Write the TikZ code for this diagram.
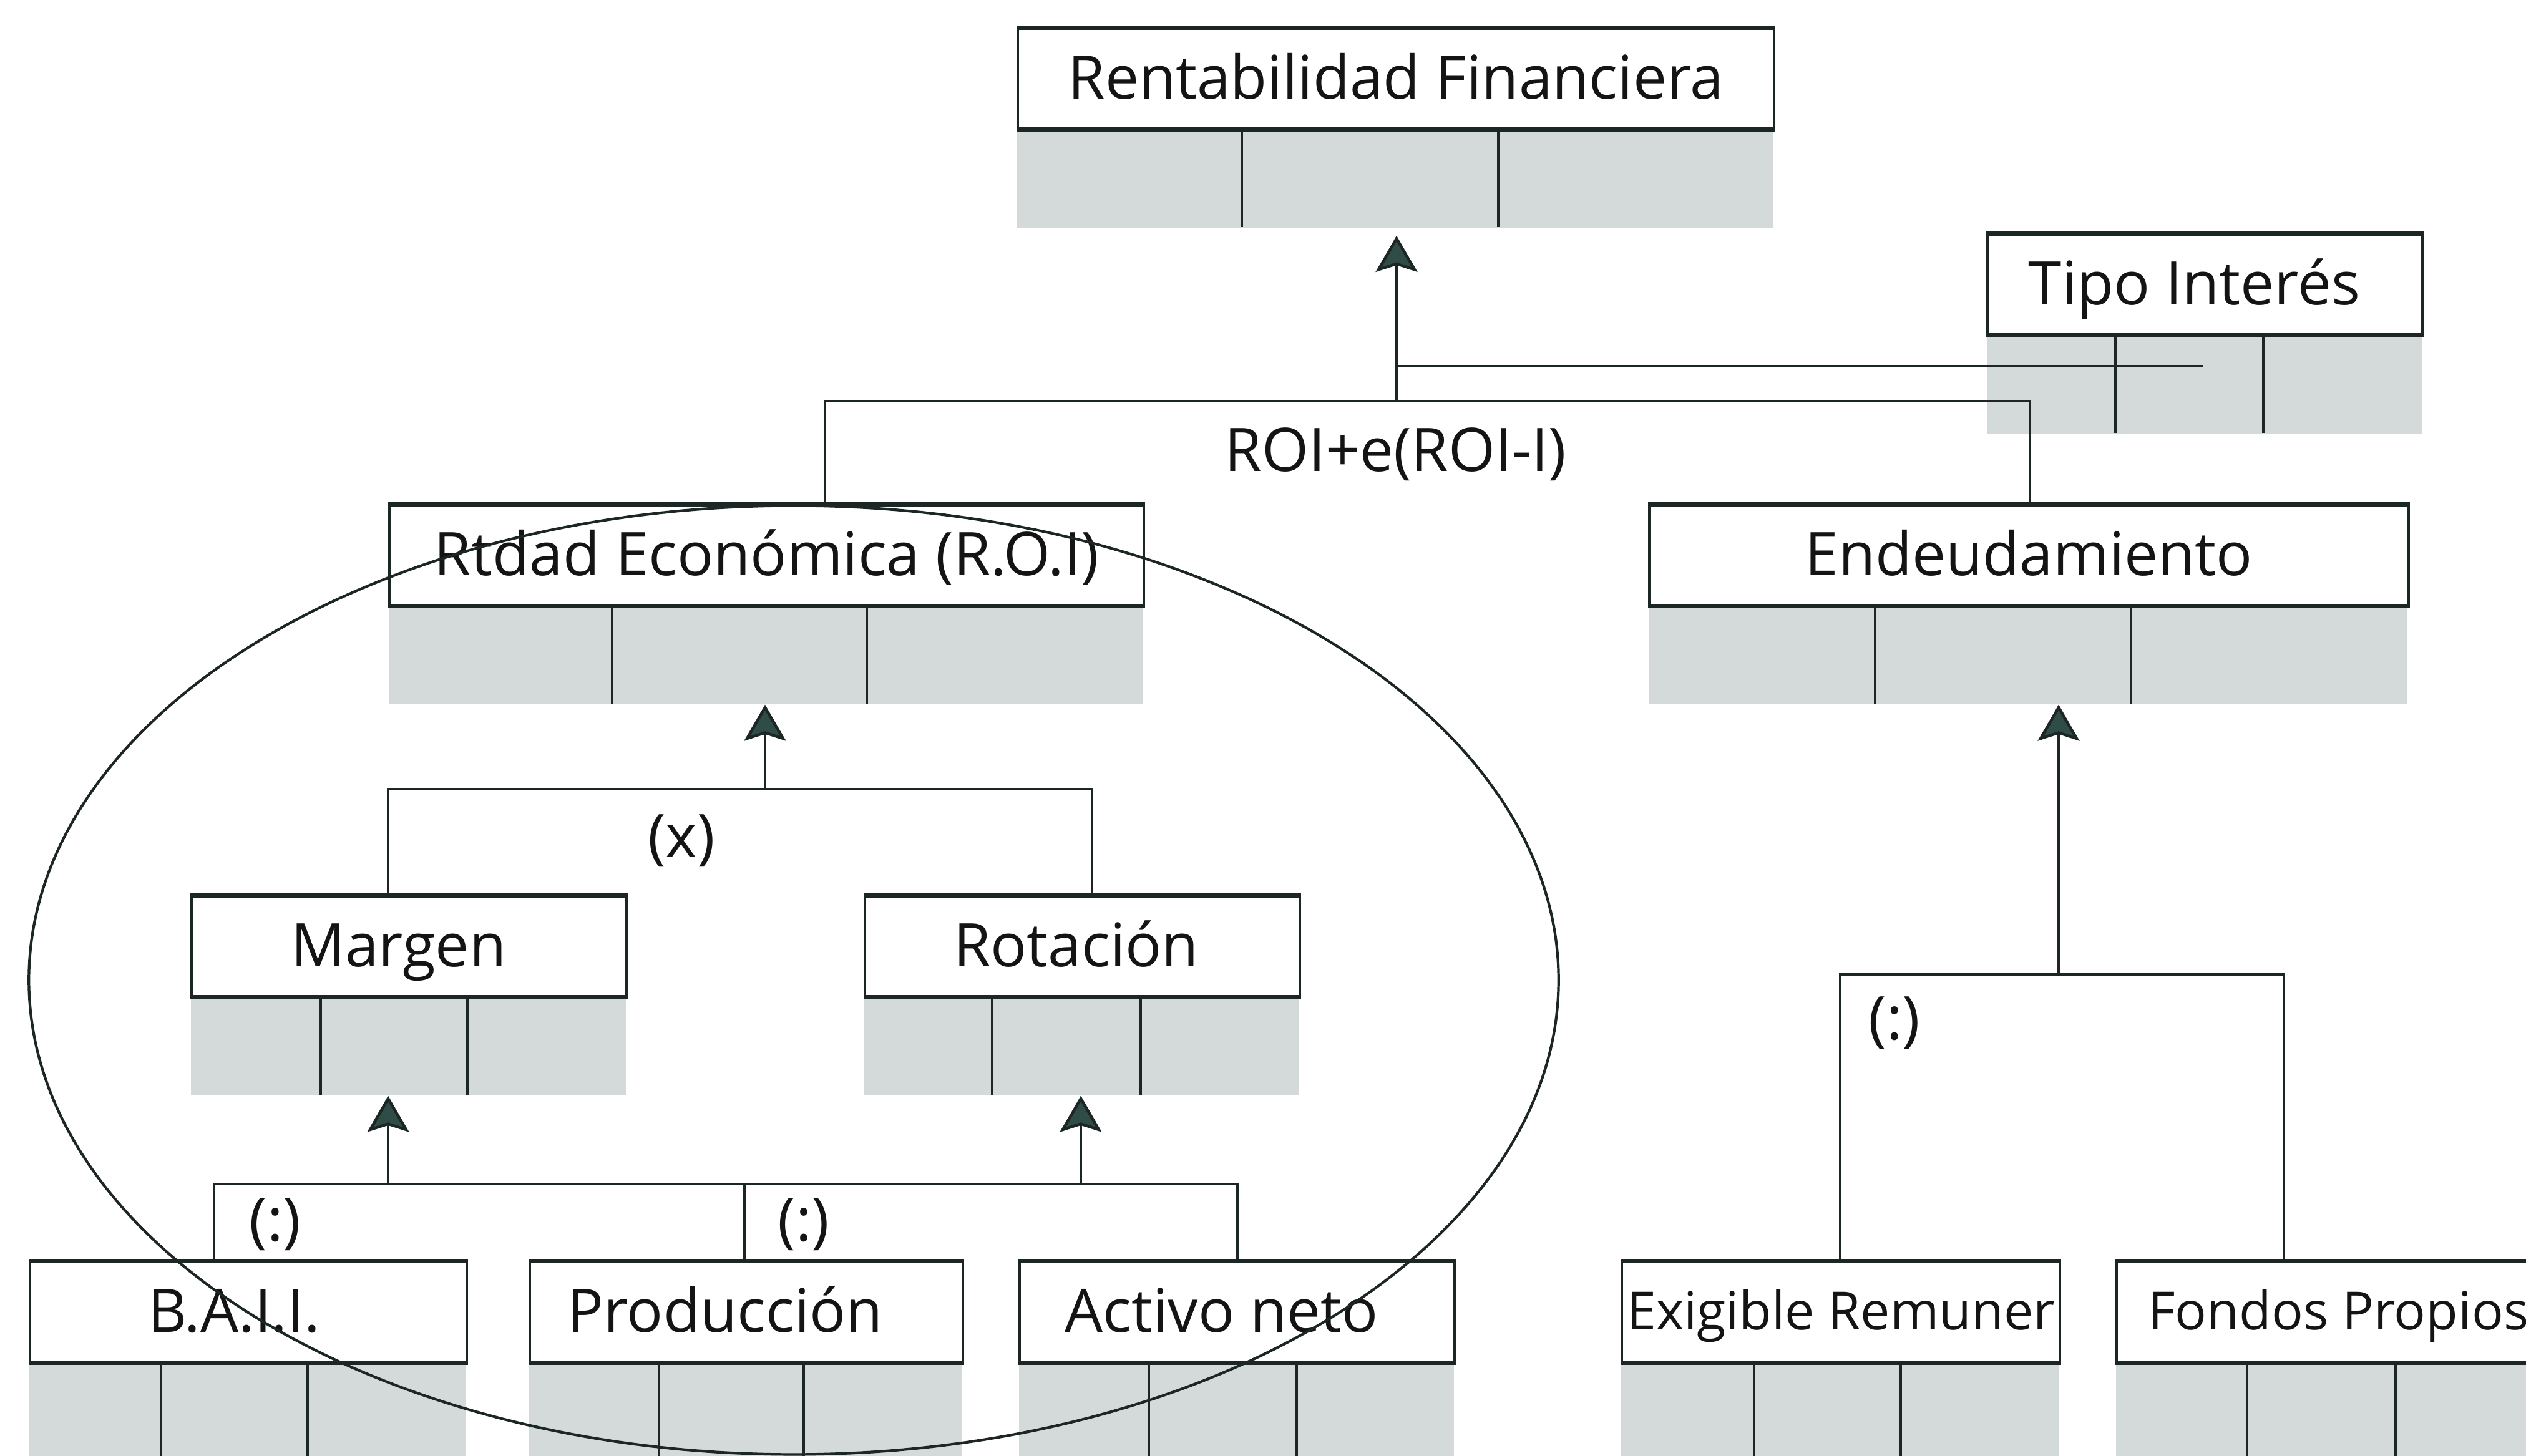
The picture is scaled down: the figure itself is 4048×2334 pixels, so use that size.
\documentclass[tikz,border=0pt]{standalone}
\usepackage{fontspec}
\setmainfont{Open Sans}
\usetikzlibrary{arrows.meta,calc,shapes.geometric}
\definecolor{ink}{RGB}{28,38,36}
\definecolor{arrfill}{RGB}{48,76,70}
\definecolor{cellgray}{RGB}{212,217,218}
\tikzset{
  wbox/.style={rectangle, fill=white, draw=ink, line width=1.1pt, minimum height=1.6cm,
    inner sep=0pt, text height=18.5pt, text depth=0pt, font=\fontsize{27.4}{32}\selectfont, text=black!92},
  smallfont/.style={font=\fontsize{24}{29}\selectfont, text height=16.4pt},
  tshift/.style={execute at begin node={\kern#1}},
  gbox/.style={rectangle, fill=cellgray, minimum height=1.6cm, inner sep=0pt},
  divl/.style={draw=ink, line width=1.1pt},
  hedge/.style={draw=ink, line width=1.9pt},
  conn/.style={draw=ink, line width=1.3pt},
  arr/.style={conn, -{Stealth[length=16.5pt, width=19pt, inset=3pt, fill=arrfill]}},
  lab/.style={font=\fontsize{27.4}{32}\selectfont, inner sep=0pt, text height=18.5pt, text depth=0pt, text=black!92},
}
\newcommand{\cuadro}[8][]{% [extra], name, x1, x2, ytop, d1, d2, text
  \pgfmathsetmacro{\cw}{(#4-#3)/100}
  \node[gbox, minimum width=\cw cm, anchor=north west] (#2g) at (#3,#5+160) {};
  \node[wbox, minimum width=\cw cm, anchor=north west, #1] (#2) at (#3,#5) {#8};
  \draw[divl] (#6,#5+160) -- (#6,#5+320);
  \draw[divl] (#7,#5+160) -- (#7,#5+320);
  \draw[hedge] (#2.north west) -- (#2.north east);
  \draw[hedge] (#2.south west) -- (#2.south east);
}
\begin{document}
\begin{tikzpicture}[x=0.01cm, y=-0.01cm]
\clip (0,0) rectangle (4048,2334);
\fill[white] (0,0) rectangle (4048,2334);

\cuadro{rf}{1629}{2840}{44}{1990}{2401}{Rentabilidad Financiera}
\cuadro[tshift=-0.34cm]{ti}{3183}{3880}{374}{3390}{3627}{Tipo Interés}
\cuadro{roi}{622}{1830}{808}{981}{1389}{Rtdad Económica (R.O.I)}
\cuadro{endeu}{2641}{3857}{808}{3005}{3415}{Endeudamiento}
\cuadro[tshift=-0.34cm]{mar}{305}{1002}{1435}{514}{749}{Margen}
\cuadro[tshift=-0.2cm]{rot}{1384}{2081}{1435}{1590}{1828}{Rotación}
\cuadro[tshift=-0.46cm]{bai}{46}{746}{2021}{258}{493}{B.A.I.I.}
\cuadro[tshift=-0.68cm]{pro}{847}{1541}{2021}{1056}{1288}{Producción}
\cuadro[tshift=-0.5cm]{act}{1632}{2329}{2021}{1841}{2078}{Activo neto}
\cuadro[smallfont]{exi}{2597}{3299}{2021}{2811}{3046}{Exigible Remuner}
\cuadro[smallfont, tshift=-0.3cm]{fon}{3390}{4130}{2021}{3601}{3839}{Fondos Propios}

% top level
\coordinate (j1) at (2238,643);
\coordinate (j1t) at (2238,587);
\coordinate (tiEnd) at (3530,587);
\coordinate (jL) at (1322,643);
\coordinate (jR) at (3253,643);
\draw[conn] (roi.north -| jL) -- (jL) -- (jR) -- (endeu.north -| jR);
\draw[arr, shorten >=3.5pt] (j1) -- (j1 |- rfg.south);
\draw[conn] (j1t) -- (tiEnd);
\node[lab] (lroi) at (2236,723) {ROI+e(ROI-I)};

% ROI level
\coordinate (j2) at (1226,1265);
\coordinate (j2L) at (622,1265);
\coordinate (j2R) at (1750,1265);
\draw[conn] (mar.north -| j2L) -- (j2L) -- (j2R) -- (rot.north -| j2R);
\draw[arr] (j2) -- (j2 |- roig.south);
\node[lab] (lx) at (1092,1342) {(x)};

% bottom left level
\coordinate (j3L) at (343,1898);
\coordinate (j3M) at (1193,1898);
\coordinate (j3R) at (1983,1898);
\coordinate (j3a) at (622,1898);
\coordinate (j3b) at (1732,1898);
\draw[conn] (bai.north -| j3L) -- (j3L) -- (j3R) -- (act.north -| j3R);
\draw[conn] (j3M) -- (pro.north -| j3M);
\draw[arr] (j3a) -- (j3a |- marg.south);
\draw[arr] (j3b) -- (j3b |- rotg.south);
\node[lab] (ld1) at (441,1957) {(:)};
\node[lab] (ld2) at (1288,1957) {(:)};

% endeudamiento level
\coordinate (j4) at (3299,1562);
\coordinate (j4L) at (2949,1562);
\coordinate (j4R) at (3660,1562);
\draw[conn] (exi.north -| j4L) -- (j4L) -- (j4R) -- (fon.north -| j4R);
\draw[arr] (j4) -- (j4 |- endeug.south);
\node[lab] (ld3) at (3036,1634) {(:)};

% ellipse
\node[draw=ink, line width=1.2pt, ellipse, inner sep=0pt, minimum width=24.5cm, minimum height=15.2cm] (grupo) at (1272,1571) {};
\end{tikzpicture}
\end{document}
